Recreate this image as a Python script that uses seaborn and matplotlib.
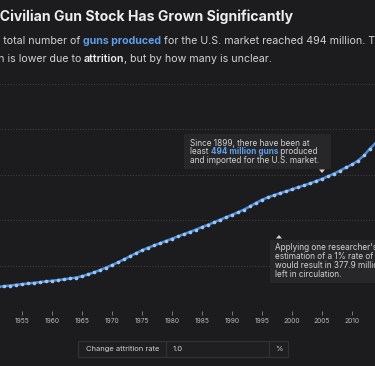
import matplotlib
matplotlib.use("Agg")
import matplotlib.pyplot as plt
from matplotlib.transforms import IdentityTransform
from matplotlib.patches import Rectangle, Polygon
import seaborn as sns

# cumulative guns produced and imported for the U.S. market, millions
years = list(range(1950, 2022))
guns_millions = [
    52, 53, 54.5, 56, 57.5, 59, 60.5, 62, 63.5, 65,
    66.5, 68, 69.7, 71.5, 73.5, 76.5, 80.5, 85, 90, 95.5,
    101, 107, 113.5, 120.5, 127, 133.5, 139, 144, 149, 154,
    159, 164, 169, 174, 179, 184.5, 189.5, 195, 200.5, 206,
    211.5, 217, 223, 230, 237.5, 244.5, 250, 254.5, 259, 263,
    267.5, 272, 276, 280.5, 285.5, 290.5, 296, 302, 308.5, 315.5,
    322, 330.5, 342, 357, 370, 386, 403, 418, 434, 449,
    471, 494,
]
x_ticks = list(range(1955, 2015, 5))
grid_levels = [100, 200, 300, 400, 500]

title = "The Civilian Gun Stock Has Grown Significantly"
note_top = [
    [("Since 1899, there have been at", "txt", "normal")],
    [("least ", "txt", "normal"), ("494 million guns", "blue", "bold"), (" produced", "txt", "normal")],
    [("and imported for the U.S. market.", "txt", "normal")],
]
note_bottom = [
    "Applying one researcher's",
    "estimation of a 1% rate of attrition",
    "would result in 377.9 million guns",
    "left in circulation.",
]

BG = "#1c1c1e"
BOX = "#272729"
TXT = "#d2d2d4"
BLUE = "#5e9ee8"
LINE = "#4a8ad8"
DOT = "#9cc6f4"
W, H = 375, 366

sns.set_theme(style="dark", rc={"axes.facecolor": BG, "figure.facecolor": BG})
plt.rcParams["font.family"] = ["Inter", "DejaVu Sans"]
colors = {"txt": TXT, "blue": BLUE, "white": "#ececee"}

fig = plt.figure(figsize=(W / 100, H / 100), dpi=100, facecolor=BG)
renderer = fig.canvas.get_renderer()

# the chart is a crop: 1955 sits at x=22px, 6px per year; 0 at y=311px, 100M per 45.5px
x_lo, x_hi = 1899, 2021
left_px = 22 - (1955 - x_lo) * 6
right_px = 22 + (x_hi - 1955) * 6
ax = fig.add_axes([left_px / W, (H - 311) / H, (right_px - left_px) / W, (311 - 83.5) / H])
sns.lineplot(x=years, y=guns_millions, ax=ax, color=LINE, lw=1.8, marker="o",
             markersize=2.6, markerfacecolor=DOT, markeredgewidth=0)
ax.set_xlim(x_lo, x_hi)
ax.set_ylim(0, 500)
ax.set_yticks(grid_levels)
ax.set_yticklabels([])
ax.set_xticks(x_ticks)
ax.set_xlabel("")
ax.set_ylabel("")
ax.grid(False)
ax.grid(axis="y", color="#3d3d40", lw=0.8, linestyle=(0, (1, 1.5)))
ax.tick_params(axis="y", length=0)
ax.tick_params(axis="x", length=3, width=0.6, color="#8a8a8c", labelsize=4.8,
               labelcolor="#b8b8ba", pad=2, bottom=True)
for s in ax.spines.values():
    s.set_visible(False)


def px_text(x, y, s, **kw):
    return fig.text(x, H - y, s, transform=IdentityTransform(), **kw)


def text_width(s, size, weight="normal"):
    # pad with letters so spaces at the ends are counted
    t1 = px_text(0, 0, "a" + s + "a", fontsize=size, fontweight=weight)
    t2 = px_text(0, 0, "aa", fontsize=size, fontweight=weight)
    w = t1.get_window_extent(renderer).width - t2.get_window_extent(renderer).width
    t1.remove()
    t2.remove()
    return w


def fit_size(s, target, weight="normal"):
    return 10 * target / text_width(s, 10, weight)


def draw_runs(x, y, runs, size):
    for s, c, weight in runs:
        px_text(x, y, s, fontsize=size, color=colors[c], fontweight=weight, va="baseline")
        x += text_width(s, size, weight)


# title and subtitle, cut at the left like the original crop
fs_title = fit_size("Civilian Gun Stock Has Grown Significantly", 293, "bold")
px_text(-text_width("The ", fs_title, "bold"), 20.5, title, fontsize=fs_title,
        fontweight="bold", color="#ececee", va="baseline")

fs_sub = fit_size("total number of ", 80)
line1 = [("The total number of ", "txt", "normal"), ("guns produced", "blue", "bold"),
         (" for the U.S. market reached 494 million. The number in circulation", "txt", "normal")]
draw_runs(3 - text_width("The ", fs_sub), 43.5, line1, fs_sub)
line2 = [("circulation is lower due to ", "txt", "normal"), ("attrition", "white", "semibold"),
         (", but by how many is unclear.", "txt", "normal")]
draw_runs(7 - text_width("circulation ", fs_sub), 62, line2, fs_sub)

# note on the produced total
fs_note = fit_size("Since 1899, there have been at", 120)
fig.add_artist(Rectangle((184, H - 169), 147, 35, transform=IdentityTransform(),
                         facecolor=BOX, edgecolor="none"))
for i, runs in enumerate(note_top):
    draw_runs(190, 145.5 + i * 8.8, runs, fs_note)
fig.add_artist(Polygon([(319, H - 169.5), (325, H - 169.5), (322, H - 173)],
                       transform=IdentityTransform(), facecolor=TXT, edgecolor="none"))

# note on attrition
fig.add_artist(Rectangle((270, H - 283), 120, 43, transform=IdentityTransform(),
                         facecolor=BOX, edgecolor="none"))
for i, s in enumerate(note_bottom):
    px_text(275, 250.5 + i * 8.8, s, fontsize=fs_note, color=TXT, va="baseline")
fig.add_artist(Polygon([(276, H - 238.5), (282, H - 238.5), (279, H - 235)],
                       transform=IdentityTransform(), facecolor=TXT, edgecolor="none"))

# attrition rate input
fs_ui = fit_size("Change attrition rate", 73)
fig.add_artist(Rectangle((78, H - 357), 210, 16, transform=IdentityTransform(),
                         facecolor="#1f1f21", edgecolor="#333336", lw=0.8))
for xd in (166, 269):
    fig.add_artist(plt.Line2D([xd, xd], [H - 357, H - 341], transform=IdentityTransform(),
                              color="#333336", lw=0.8))
px_text(86, 349, "Change attrition rate", fontsize=fs_ui, color=TXT, va="center")
px_text(173, 349, "1.0", fontsize=fs_ui, color=TXT, va="center")
px_text(279, 349, "%", fontsize=fs_ui, color=TXT, va="center", ha="center")

fig.savefig("out.png", dpi=100, facecolor=BG)
